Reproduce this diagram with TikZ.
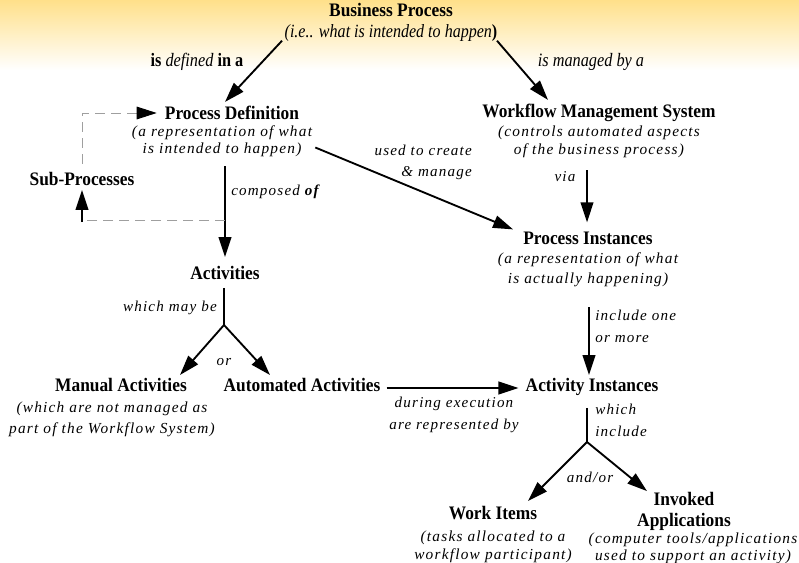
\documentclass[tikz,border=0pt]{standalone}
\usepackage{fontspec}
\setmainfont{Liberation Serif}
\newfontfamily\tfont[FakeStretch=0.91]{Liberation Serif}
\newfontfamily\cfont[FakeStretch=0.86]{Liberation Serif}
\newfontfamily\sfontx[LetterSpace=8]{Liberation Serif}
\usetikzlibrary{arrows.meta,calc}
\begin{document}
\begin{tikzpicture}[x=0.75pt,y=-0.75pt,
 ttl/.style={font=\tfont\bfseries\fontsize{14.3}{15.75}\selectfont, inner sep=0pt, align=center},
 desc/.style={font=\sfontx\itshape\fontsize{11.5}{#1}\selectfont, inner sep=0pt, align=center},
 desc/.default=13,
 lbl/.style={font=\sfontx\itshape\fontsize{11.3}{#1}\selectfont, inner sep=0pt},
 lbl/.default=16,
 cond/.style={font=\cfont\fontsize{14.2}{15}\selectfont, inner sep=0pt},
 arr/.style={line width=1.4pt, -{Triangle[length=15pt,width=9.5pt]}},
 ln/.style={line width=1.4pt},
 dsh/.style={gray!75, line width=0.7pt, dash pattern=on 7.5pt off 4.5pt}
]
\useasboundingbox (0,0) rectangle (799,563);
\fill[white] (0,0) rectangle (799,563);
\shade[top color={rgb,255:red,255;green,224;blue,138}, bottom color=white] (0,0) rectangle (799,70);

% nodes
\node[ttl, anchor=north] (bp) at (391,3)
  {Business Process\\{\cfont\mdseries\itshape\fontsize{14}{15.75}\selectfont (i.e.. what is intended to happen\upshape\bfseries )}};
\node[ttl] (pd) at (232,113) {Process Definition};
\node[desc=12.75] (pdsub) at (222,141.5) {(a representation of what\\is intended to happen)};
\node[ttl] (wms) at (599,113) {Workflow Management System};
\node[desc=13.5] (wmssub) at (599,142) {(controls automated aspects\\of the business process)};
\node[ttl] (sub) at (82,179) {Sub-Processes};
\node[ttl] (act) at (225,273) {Activities};
\node[ttl] (pi) at (588,238) {Process Instances};
\node[desc=15] (pisub) at (588,270) {(a representation of what\\is actually happening)};
\node[ttl] (man) at (121,385) {Manual Activities};
\node[desc=15.75] (mansub) at (112,419.5) {(which are not managed as\\part of the Workflow System)};
\node[ttl] (auto) at (302,385) {Automated Activities};
\node[ttl] (ai) at (592,387) {Activity Instances};
\node[ttl] (wi) at (493,513) {Work Items};
\node[desc=13.5] (wisub) at (493,547) {(tasks allocated to a\\workflow participant)};
\node[ttl] (inv) at (684,511.5) {Invoked\\Applications};
\node[desc=12.75] (invsub) at (693,548.5) {(computer tools/applications\\used to support an activity)};

% labels
\node[cond] (l1) at (197,62) {\textbf{is} \itshape defined \upshape\bfseries in a};
\node[cond] (l2) at (591,62) {\itshape is managed by a};
\node[lbl=15.75, align=right, anchor=east] (l3) at (472,162.5) {used to create\\\& manage};
\node[lbl, anchor=west] (l4) at (231,192) {composed \textbf{of}};
\node[lbl] (l5) at (565,177) {via};
\node[lbl, anchor=east] (l6) at (217,308) {which may be};
\node[lbl] (l7) at (224,362) {or};
\node[lbl=16.5, align=left, anchor=west] (l8) at (595,326) {include one\\or more};
\node[lbl=16.5, align=center] (l9) at (454,415) {during execution\\are represented by};
\node[lbl=16.5, align=left, anchor=west] (l10) at (595,420) {which\\include};
\node[lbl] (l11) at (590,477) {and/or};

% branch points
\coordinate (j1) at (224,325);
\coordinate (j2) at (587,442);
\coordinate (d1) at (82,164);
\coordinate (d2) at (225,220);

% connectors
\draw[arr] ($(bp.south)+(-109,-1)$) -- ($(pd.north)+(-7,-4)$);
\draw[arr] ($(bp.south)+(106,-1)$) -- ($(wms.north)+(-51,-4)$);
\draw[dsh] (d1) |- ($(pd.west)+(-20,0)$);
\draw[-{Triangle[length=15pt,width=9.5pt]}, line width=0.7pt] ($(pd.west)+(-20,0)$) -- ($(pd.west)+(-8,0)$);
\draw[arr] ($(pdsub.south)+(3,9)$) -- ($(act.north)+(0,-9)$);
\draw[dsh] (d2) -- (d2 -| sub);
\draw[arr] ($(d2 -| sub)+(0,2)$) -- ($(sub.south)+(0,4)$);
\draw[arr] ($(pdsub.east)+(3,6)$) -- ($(pi.north west)+(-10,-2)$);
\draw[arr] ($(wmssub.south)+(-12,12)$) -- ($(pi.north)+(-1,-9)$);
\draw[ln] ($(act.south)+(-1,8)$) -- (j1);
\draw[arr] (j1) -- ($(man.north)+(59,-3)$);
\draw[arr] (j1) -- ($(auto.north)+(-32,-3)$);
\draw[arr] ($(auto.east)+(6,3)$) -- ($(ai.west)+(-7,1)$);
\draw[arr] ($(pisub.south)+(1,20)$) -- ($(ai.north)+(-3,-3)$);
\draw[ln] ($(ai.south)+(-5,12)$) -- (j2);
\draw[arr] (j2) -- ($(wi.north)+(35,-5)$);
\draw[arr] (j2) -- ($(inv.north)+(-37,-1)$);
\end{tikzpicture}
\end{document}
